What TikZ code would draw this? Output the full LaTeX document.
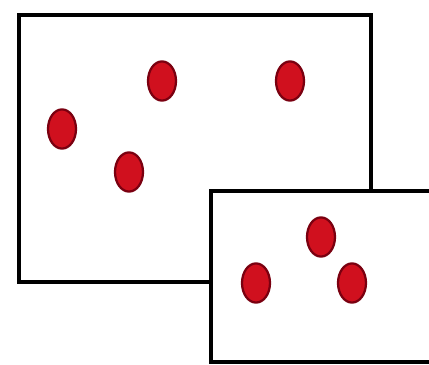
\documentclass[tikz,border=0pt]{standalone}
\usetikzlibrary{shapes.geometric}
\definecolor{cred}{HTML}{D0101E}
\definecolor{cdark}{HTML}{7A0010}
\tikzset{
  every picture/.style={line width=3.4pt},
  frame/.style={draw=black, fill=white},
  dot/.style={ellipse, draw=cdark, fill=cred, line width=1.6pt, minimum width=0.7cm, minimum height=0.98cm, inner sep=0pt},
}
\begin{document}
\begin{tikzpicture}
  \useasboundingbox (0,0) rectangle (10.725,9.125);
  \clip (0,0) rectangle (10.725,9.125);
  % large frame
  \draw[frame] (0.475,2.075) rectangle (9.275,8.75);
  \node[dot] (a1) at (4.05,7.1)  {};
  \node[dot] (a2) at (7.25,7.1)  {};
  \node[dot] (a3) at (1.55,5.9)  {};
  \node[dot] (a4) at (3.225,4.825) {};
  % small frame on top
  \draw[frame] (5.275,0.075) rectangle (11.2,4.35);
  \node[dot] (b1) at (8.025,3.2) {};
  \node[dot] (b2) at (6.4,2.05)  {};
  \node[dot] (b3) at (8.8,2.05)  {};
\end{tikzpicture}
\end{document}
